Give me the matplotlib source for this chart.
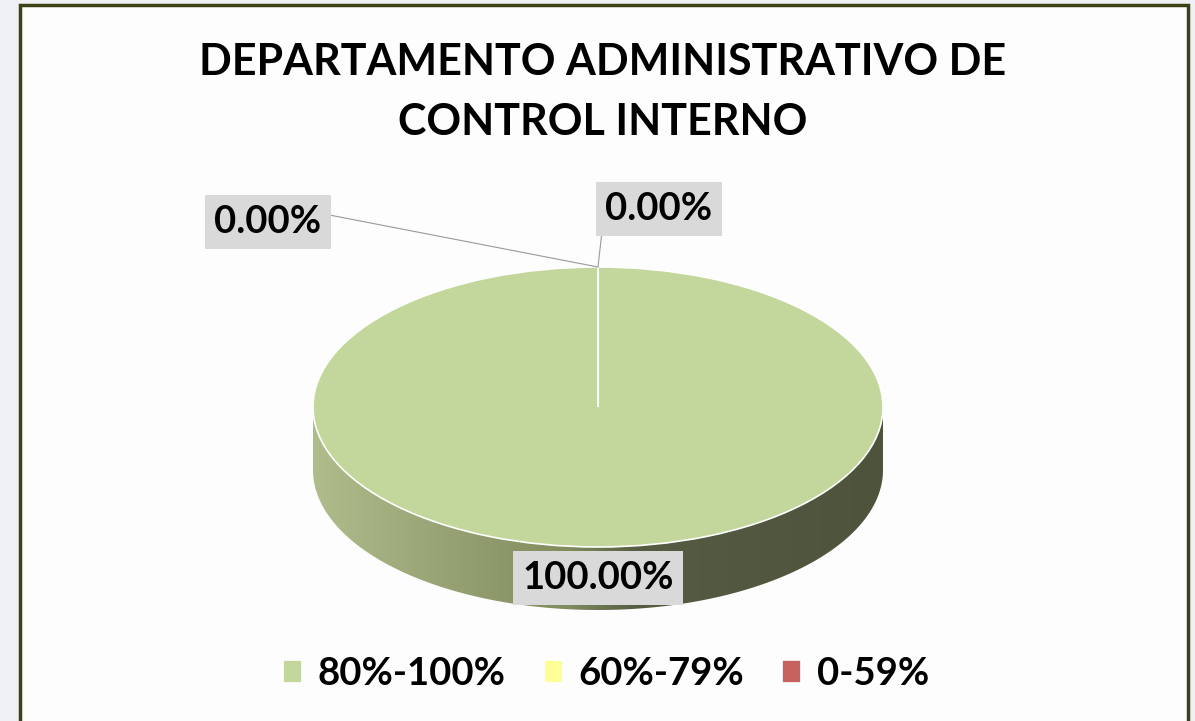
import numpy as np
import matplotlib.pyplot as plt
from matplotlib.patches import Polygon, Rectangle
from matplotlib.colors import LinearSegmentedColormap
from matplotlib.font_manager import FontProperties

# datos
rangos = ["80%-100%", "60%-79%", "0-59%"]
porcentajes = [100.0, 0.0, 0.0]
colores = ["#c3d69b", "#ffff99", "#c8625e"]
titulo = "DEPARTAMENTO ADMINISTRATIVO DE\nCONTROL INTERNO"

familia = ["Lato", "DejaVu Sans"]
fp_titulo = FontProperties(family=familia, weight="bold", size=31)
fp_etq = FontProperties(family=familia, weight="bold", size=27.5)

W, H = 1195, 721
fig = plt.figure(figsize=(W / 100, H / 100), dpi=100, facecolor="#eef0f3")

# fondo en coordenadas de pixel
bg = fig.add_axes([0, 0, 1, 1])
bg.set_xlim(0, W)
bg.set_ylim(H, 0)
bg.axis("off")
bg.add_patch(Rectangle((20, 5), 1168, 740, fc="#fdfdfd", ec="#3d4214", lw=2.5))
bg.text(603, 92, titulo, ha="center", va="center", fontproperties=fp_titulo,
        linespacing=1.6)

# pastel "3D": elipse superior + costado con degradado
prof = 0.45
axp = fig.add_axes([313 / W, 1 - 610 / H, 570 / W, 343 / H])
wedges, _ = axp.pie(porcentajes, colors=colores, startangle=90, counterclock=False,
                    radius=1, wedgeprops=dict(edgecolor="white", linewidth=1.2))
for w in wedges:
    w.set_zorder(3)

t = np.linspace(np.pi, 2 * np.pi, 200)
borde = np.column_stack([np.cos(t), np.sin(t)])
lado = np.vstack([borde, borde[::-1] - [0, prof]])
clip = Polygon(lado, closed=True, fc="none", ec="none")
axp.add_patch(clip)
cmap = LinearSegmentedColormap.from_list(
    "lado", [(0, "#b0bc8c"), (0.45, "#808b5e"), (0.57, "#555c42"), (1, "#4e543c")])
grad = np.linspace(0, 1, 256).reshape(1, -1)
img = axp.imshow(grad, cmap=cmap, extent=(-1, 1, -1 - prof, 0.05), aspect="auto",
                 zorder=1)
img.set_clip_path(clip)
axp.set_aspect("auto")
axp.set_xlim(-1, 1)
axp.set_ylim(-1 - prof, 1)
axp.axis("off")

# etiquetas de datos
caja = dict(boxstyle="square,pad=0.25", fc="#d9d9d9", ec="none")
pos_etq = {1: (268, 222), 2: (659, 209)}
rel = {1: (1.0, 0.75), 2: (0.0, 0.75)}
for i, (x, y) in pos_etq.items():
    ang = np.deg2rad(wedges[i].theta1)
    axp.annotate(f"{porcentajes[i]:.2f}%", xy=(np.cos(ang), np.sin(ang)),
                 xytext=(x, y), textcoords=bg.transData, ha="center", va="center",
                 fontproperties=fp_etq, bbox=caja, zorder=5,
                 arrowprops=dict(arrowstyle="-", color="#9a9a9a", lw=0.8,
                                 shrinkA=0, shrinkB=0, relpos=rel[i]))
axp.text(598, 578, f"{porcentajes[0]:.2f}%", transform=bg.transData, ha="center",
         va="center", fontproperties=fp_etq, bbox=caja, zorder=5, clip_on=False)

# leyenda
fig.legend(wedges, rangos, loc="center", bbox_to_anchor=(606 / W, 1 - 674 / H),
           ncol=3, frameon=False, prop=fp_etq, handlelength=0.5, handleheight=0.55,
           handletextpad=0.4, columnspacing=1.0)

fig.savefig("out.png", dpi=100, facecolor=fig.get_facecolor())
